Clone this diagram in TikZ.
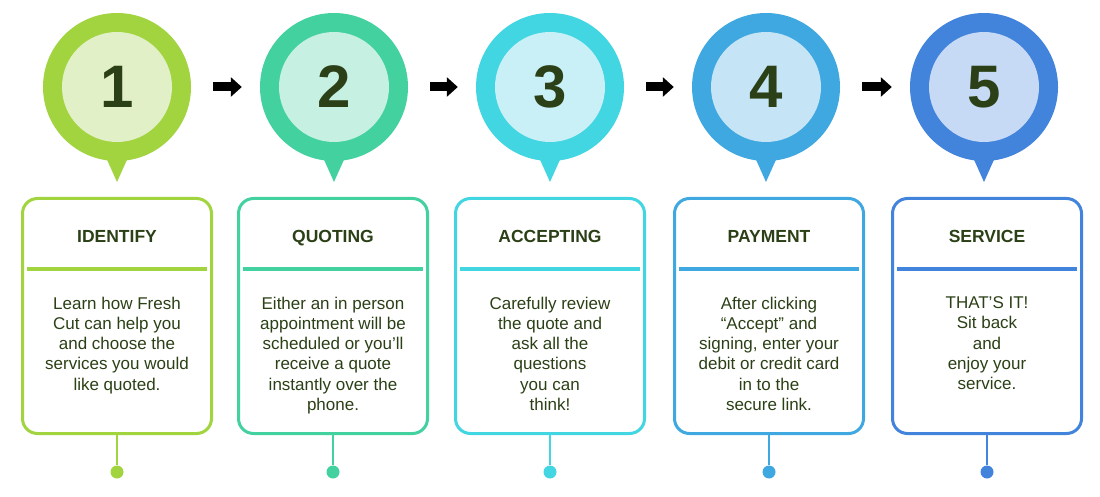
\documentclass[tikz,border=0pt]{standalone}
\usepackage{fontspec}
\setmainfont{Liberation Sans}
\usetikzlibrary{arrows.meta,positioning,calc}
\definecolor{textgreen}{RGB}{43,64,22}
\definecolor{lime}{RGB}{162,212,64}
\definecolor{limelight}{RGB}{226,240,200}
\definecolor{mint}{RGB}{68,209,160}
\definecolor{mintlight}{RGB}{198,240,226}
\definecolor{aqua}{RGB}{66,213,226}
\definecolor{aqualight}{RGB}{200,240,246}
\definecolor{sky}{RGB}{64,168,224}
\definecolor{skylight}{RGB}{197,228,246}
\definecolor{royal}{RGB}{66,131,220}
\definecolor{royallight}{RGB}{198,218,245}
\tikzset{
  pinring/.style={circle, fill=#1, minimum size=148pt, inner sep=0pt},
  pincore/.style={circle, fill=#1, minimum size=110pt, inner sep=0pt,
    text=textgreen, font=\bfseries\fontsize{60}{60}\selectfont},
  stepbox/.style={draw=#1, line width=3pt, rounded corners=15pt, fill=white,
    minimum width=189pt, minimum height=235pt},
  steptitle/.style={anchor=base, text=textgreen, font=\bfseries\fontsize{17.5}{20}\selectfont},
  stepbody/.style={anchor=north, align=center, inner sep=0pt, text=textgreen,
    font=\fontsize{17}{20.3}\selectfont},
  enddot/.style={circle, fill=#1, minimum size=13pt, inner sep=0pt},
  flowarrow/.style={-{Triangle[length=11pt, width=19pt]}, line width=9pt,
    shorten <=22pt, shorten >=18pt}
}

\begin{document}
\begin{tikzpicture}[x=1pt, y=-1pt]
\fill[white] (0,0) rectangle (1100,497);
\useasboundingbox (0,0) rectangle (1100,497);

\foreach \i/\px/\bx/\col/\head/\body in {
  1/117/117/lime/IDENTIFY/{Learn how Fresh\\Cut can help you\\and choose the\\services you would\\like quoted.},
  2/334/333/mint/QUOTING/{Either an in person\\appointment will be\\scheduled or you’ll\\receive a quote\\instantly over the\\phone.},
  3/550/550/aqua/ACCEPTING/{Carefully review\\the quote and\\ask all the\\questions\\you can\\think!},
  4/766/769/sky/PAYMENT/{After clicking\\“Accept” and\\signing, enter your\\debit or credit card\\in to the\\secure link.},
  5/984/987/royal/SERVICE/{THAT’S IT!\\Sit back\\and\\enjoy your\\service.}}{
  % pin with number
  \node[pinring=\col] (p\i) at (\px,87) {};
  \fill[\col] (p\i.center) +(-13,66) -- +(13,66) -- +(0,95) -- cycle;
  \node[pincore=\col light] (c\i) at (p\i.center) {\i};
  % card
  \node[stepbox=\col] (b\i) at (\bx,316) {};
  \node[steptitle] (t\i) at ($(b\i.north)+(0,45)$) {\head};
  \draw[\col, line width=4pt] ($(b\i.north west)+(6,72)$) -- ($(b\i.north east)+(-6,72)$);
  \node[stepbody] (x\i) at ($(b\i.north)+(0,99.5)$) {\body};
  % stem
  \node[enddot=\col] (d\i) at ($(b\i.south)+(0,37)$) {};
  \draw[\col, line width=2.5pt] (b\i.south) -- (d\i);
}

\foreach \i [evaluate=\i as \j using int(\i+1)] in {1,...,4}
  \draw[flowarrow] (p\i) -- (p\j);
\end{tikzpicture}
\end{document}
